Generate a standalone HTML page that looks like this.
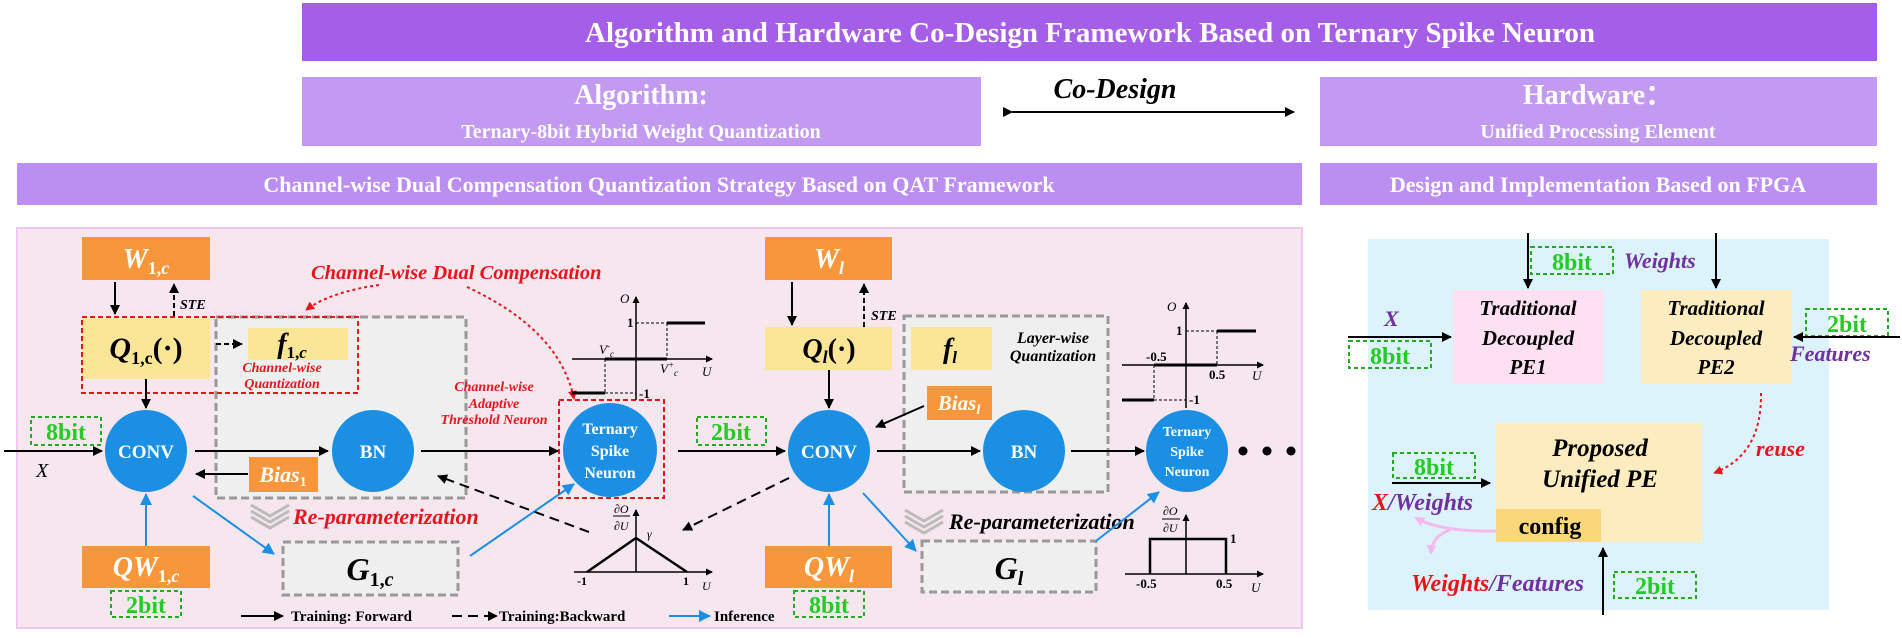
<!DOCTYPE html>
<html><head><meta charset="utf-8"><style>
html,body{margin:0;padding:0;background:#fff;}
svg{display:block;}
text{font-family:"Liberation Serif",serif;}
</style></head><body>
<svg width="1902" height="638" viewBox="0 0 1902 638" xmlns="http://www.w3.org/2000/svg">
<defs>
<marker id="ab" markerWidth="10" markerHeight="10" refX="9" refY="5" orient="auto" markerUnits="userSpaceOnUse"><path d="M0,0 L10,5 L0,10 z" fill="#000"/></marker>
<marker id="abl" markerWidth="12" markerHeight="12" refX="11" refY="6" orient="auto" markerUnits="userSpaceOnUse"><path d="M0,0 L12,6 L0,12 z" fill="#1a8fe3"/></marker>
<marker id="ar" markerWidth="9" markerHeight="9" refX="8" refY="4.5" orient="auto" markerUnits="userSpaceOnUse"><path d="M0,0 L9,4.5 L0,9 z" fill="#e8141c"/></marker>
<marker id="as" markerWidth="7" markerHeight="7" refX="6" refY="3.5" orient="auto" markerUnits="userSpaceOnUse"><path d="M0,0 L7,3.5 L0,7 z" fill="#000"/></marker>
<marker id="ap" markerWidth="10" markerHeight="10" refX="8" refY="5" orient="auto" markerUnits="userSpaceOnUse"><path d="M0,0 L10,5 L0,10 z" fill="#f7b8ee"/></marker>
</defs>

<rect x="302" y="3" width="1575" height="58" fill="#a45ee8"/>
<text x="1090" y="42" font-size="29" font-weight="bold" fill="#fff" text-anchor="middle">Algorithm and Hardware Co-Design Framework Based on Ternary Spike Neuron</text>
<rect x="302" y="77" width="679" height="69" fill="#c39af2"/>
<text x="641" y="104" font-size="28" font-weight="bold" fill="#fff" text-anchor="middle">Algorithm:</text>
<text x="641" y="138" font-size="20" font-weight="bold" fill="#fff" text-anchor="middle">Ternary-8bit Hybrid Weight Quantization</text>
<text x="1115" y="98" font-size="28" font-weight="bold" font-style="italic" fill="#000" text-anchor="middle">Co-Design</text>
<line x1="1012" y1="112" x2="1294" y2="112" stroke="#000" stroke-width="2" marker-end="url(#ab)" marker-start="url(#ab)"/>
<rect x="1320" y="77" width="557" height="69" fill="#c39af2"/>
<text x="1598" y="104" font-size="28" font-weight="bold" fill="#fff" text-anchor="middle">Hardware：</text>
<text x="1598" y="138" font-size="20" font-weight="bold" fill="#fff" text-anchor="middle">Unified Processing Element</text>
<rect x="17" y="163" width="1285" height="42" fill="#bb8ef2"/>
<text x="659" y="192" font-size="22" font-weight="bold" fill="#fff" text-anchor="middle">Channel-wise Dual Compensation Quantization Strategy Based on QAT Framework</text>
<rect x="1320" y="163" width="557" height="42" fill="#bb8ef2"/>
<text x="1598" y="192" font-size="22" font-weight="bold" fill="#fff" text-anchor="middle">Design and Implementation Based on FPGA</text>

<rect x="17" y="228" width="1285" height="400" fill="#f6e6ee" stroke="#f2c6f2" stroke-width="2"/>

<rect x="216" y="317" width="250" height="181" fill="#efeff0" stroke="#999" stroke-width="3" stroke-dasharray="8,4"/>
<rect x="904" y="316" width="204" height="176" fill="#efeff0" stroke="#999" stroke-width="3" stroke-dasharray="8,4"/>

<rect x="82" y="237" width="128" height="43" fill="#f7963a"/>
<text x="146" y="268" font-size="28" font-weight="bold" font-style="italic" fill="#fff" text-anchor="middle">W<tspan font-size="18" dy="6" font-style="normal">1,</tspan><tspan font-size="18" font-style="italic">c</tspan></text>
<line x1="115" y1="282" x2="115" y2="314" stroke="#000" stroke-width="2" marker-end="url(#ab)"/>
<line x1="174" y1="316" x2="174" y2="284" stroke="#000" stroke-width="2" stroke-dasharray="5,3" marker-end="url(#ab)"/>
<text x="180" y="309" font-size="14" font-weight="bold" font-style="italic">STE</text>
<rect x="82" y="318" width="128" height="61" fill="#fbe596"/>
<rect x="82" y="317" width="276" height="76" fill="none" stroke="#e8141c" stroke-width="2" stroke-dasharray="5,3"/>
<text x="146" y="358" font-size="30" font-weight="bold" font-style="italic" text-anchor="middle">Q<tspan font-size="18" dy="6" font-style="normal">1,c</tspan><tspan dy="-6" font-style="normal">(·)</tspan></text>
<line x1="216" y1="344" x2="242" y2="344" stroke="#000" stroke-width="2" stroke-dasharray="5,3" marker-end="url(#ab)"/>
<rect x="248" y="328" width="100" height="32" fill="#fbe596"/>
<text x="292" y="353" font-size="28" font-weight="bold" font-style="italic" text-anchor="middle">f<tspan font-size="17" dy="5" font-style="normal">1,</tspan><tspan font-size="17">c</tspan></text>
<text x="282" y="372" font-size="14" font-weight="bold" font-style="italic" fill="#e8141c" text-anchor="middle">Channel-wise</text>
<text x="282" y="388" font-size="14" font-weight="bold" font-style="italic" fill="#e8141c" text-anchor="middle">Quantization</text>
<line x1="146" y1="379" x2="146" y2="408" stroke="#000" stroke-width="2" marker-end="url(#ab)"/>

<text x="311" y="279" font-size="20.5" font-weight="bold" font-style="italic" fill="#e8141c">Channel-wise Dual Compensation</text>
<path d="M379,285 Q330,292 306,310" fill="none" stroke="#e8141c" stroke-width="2" stroke-dasharray="3,3" marker-end="url(#ar)"/>
<path d="M467,287 Q560,330 574,399" fill="none" stroke="#e8141c" stroke-width="2" stroke-dasharray="3,3" marker-end="url(#ar)"/>
<text x="494" y="391" font-size="14" font-weight="bold" font-style="italic" fill="#e8141c" text-anchor="middle">Channel-wise</text>
<text x="494" y="408" font-size="14" font-weight="bold" font-style="italic" fill="#e8141c" text-anchor="middle">Adaptive</text>
<text x="494" y="424" font-size="14" font-weight="bold" font-style="italic" fill="#e8141c" text-anchor="middle">Threshold Neuron</text>

<rect x="31" y="417" width="70" height="28" fill="none" stroke="#22aa22" stroke-width="2" stroke-dasharray="4,3"/>
<text x="66" y="440" font-size="24" font-weight="bold" fill="#22cc22" text-anchor="middle">8bit</text>
<line x1="4" y1="451" x2="102" y2="451" stroke="#000" stroke-width="2" marker-end="url(#ab)"/>
<text x="36" y="477" font-size="20" font-style="italic">X</text>

<circle cx="146" cy="451" r="41" fill="#1a8fe3"/>
<text x="146" y="458" font-size="19" font-weight="bold" fill="#fff" text-anchor="middle">CONV</text>
<line x1="195" y1="451" x2="328" y2="451" stroke="#000" stroke-width="2" marker-end="url(#ab)"/>
<circle cx="373" cy="451" r="41" fill="#1a8fe3"/>
<text x="373" y="458" font-size="19" font-weight="bold" fill="#fff" text-anchor="middle">BN</text>
<line x1="421" y1="451" x2="558" y2="451" stroke="#000" stroke-width="2" marker-end="url(#ab)"/>
<rect x="249" y="457" width="69" height="35" fill="#f7963a"/>
<text x="283" y="482" font-size="22" font-weight="bold" font-style="italic" fill="#fff" text-anchor="middle">Bias<tspan font-size="14" dy="4" font-style="normal">1</tspan></text>
<line x1="248" y1="474" x2="196" y2="474" stroke="#000" stroke-width="2" marker-end="url(#ab)"/>

<g fill="none" stroke="#bbb" stroke-width="3">
<polyline points="251,505 270,516 289,505"/><polyline points="251,511 270,522 289,511"/><polyline points="251,517 270,528 289,517"/>
<polyline points="905,510 924,521 943,510"/><polyline points="905,516 924,527 943,516"/><polyline points="905,522 924,533 943,522"/>
</g>
<text x="293" y="524" font-size="22" font-weight="bold" font-style="italic" fill="#e8141c">Re-parameterization</text>
<line x1="193" y1="496" x2="274" y2="554" stroke="#1a8fe3" stroke-width="2" marker-end="url(#abl)"/>
<rect x="283" y="542" width="175" height="53" fill="#efeff0" stroke="#999" stroke-width="3" stroke-dasharray="8,4"/>
<text x="370" y="580" font-size="32" font-weight="bold" font-style="italic" text-anchor="middle">G<tspan font-size="20" dy="6" font-style="normal">1,</tspan><tspan font-size="20">c</tspan></text>
<line x1="470" y1="556" x2="574" y2="484" stroke="#1a8fe3" stroke-width="2" marker-end="url(#abl)"/>
<line x1="589" y1="532" x2="438" y2="476" stroke="#000" stroke-width="2" stroke-dasharray="10,6" marker-end="url(#ab)"/>

<rect x="82" y="546" width="128" height="42" fill="#f7963a"/>
<text x="146" y="576" font-size="28" font-weight="bold" font-style="italic" fill="#fff" text-anchor="middle">QW<tspan font-size="18" dy="6" font-style="normal">1,</tspan><tspan font-size="18">c</tspan></text>
<line x1="146" y1="546" x2="146" y2="494" stroke="#1a8fe3" stroke-width="2" marker-end="url(#abl)"/>
<rect x="111" y="591" width="70" height="26" fill="none" stroke="#22aa22" stroke-width="2" stroke-dasharray="4,3"/>
<text x="146" y="613" font-size="24" font-weight="bold" fill="#22cc22" text-anchor="middle">2bit</text>

<line x1="241" y1="616" x2="283" y2="616" stroke="#000" stroke-width="2" marker-end="url(#ab)"/>
<text x="291" y="621" font-size="15" font-weight="bold">Training: Forward</text>
<line x1="452" y1="616" x2="497" y2="616" stroke="#000" stroke-width="2" stroke-dasharray="10,6" marker-end="url(#ab)"/>
<text x="499" y="621" font-size="15" font-weight="bold">Training:Backward</text>
<line x1="669" y1="616" x2="710" y2="616" stroke="#1a8fe3" stroke-width="2" marker-end="url(#abl)"/>
<text x="714" y="621" font-size="15" font-weight="bold">Inference</text>

<rect x="559" y="400" width="105" height="98" fill="none" stroke="#e8141c" stroke-width="2" stroke-dasharray="5,3"/>
<circle cx="610" cy="450" r="47" fill="#1a8fe3"/>
<text x="610" y="434" font-size="16" font-weight="bold" fill="#fff" text-anchor="middle">Ternary</text>
<text x="610" y="456" font-size="16" font-weight="bold" fill="#fff" text-anchor="middle">Spike</text>
<text x="610" y="478" font-size="16" font-weight="bold" fill="#fff" text-anchor="middle">Neuron</text>

<g stroke="#000" fill="none">
<line x1="636" y1="400" x2="636" y2="297" stroke-width="1.5" marker-end="url(#as)"/>
<line x1="572" y1="359" x2="712" y2="359" stroke-width="1.5" marker-end="url(#as)"/>
<line x1="636" y1="323" x2="667" y2="323" stroke-dasharray="3,2"/>
<line x1="667" y1="323" x2="667" y2="359" stroke-dasharray="3,2"/>
<line x1="667" y1="323" x2="705" y2="323" stroke-width="3"/>
<line x1="605" y1="359" x2="667" y2="359" stroke-width="3"/>
<line x1="605" y1="359" x2="605" y2="393" stroke-dasharray="3,2"/>
<line x1="605" y1="393" x2="636" y2="393" stroke-dasharray="3,2"/>
<line x1="572" y1="393" x2="605" y2="393" stroke-width="3"/>
</g>
<g font-size="13" font-style="italic">
<text x="620" y="303">O</text>
<text x="627" y="327" font-style="normal" font-weight="bold">1</text>
<text x="599" y="354">V<tspan font-size="9" dy="-5">-</tspan><tspan font-size="9" dy="8">c</tspan></text>
<text x="660" y="373">V<tspan font-size="9" dy="-5">+</tspan><tspan font-size="9" dy="8">c</tspan></text>
<text x="702" y="376">U</text>
<text x="639" y="398" font-style="normal" font-weight="bold">-1</text>
</g>

<g stroke="#000" fill="none">
<line x1="636" y1="572" x2="636" y2="510" stroke-width="1.5" marker-end="url(#as)"/>
<line x1="574" y1="572" x2="712" y2="572" stroke-width="1.5" marker-end="url(#as)"/>
<polyline points="587,572 636,538 687,572" stroke-width="2.5"/>
<line x1="613" y1="516" x2="630" y2="516" stroke-width="1"/>
</g>
<g font-size="12" font-style="italic">
<text x="614" y="513">∂O</text><text x="614" y="530">∂U</text>
<text x="647" y="538">γ</text>
<text x="577" y="585" font-style="normal" font-weight="bold">-1</text>
<text x="683" y="585" font-style="normal" font-weight="bold">1</text>
<text x="702" y="590">U</text>
</g>
<line x1="789" y1="478" x2="683" y2="530" stroke="#000" stroke-width="2" stroke-dasharray="10,6" marker-end="url(#ab)"/>

<rect x="697" y="417" width="69" height="28" fill="none" stroke="#22aa22" stroke-width="2" stroke-dasharray="4,3"/>
<text x="731" y="440" font-size="24" font-weight="bold" fill="#22cc22" text-anchor="middle">2bit</text>
<line x1="678" y1="451" x2="785" y2="451" stroke="#000" stroke-width="2" marker-end="url(#ab)"/>
<rect x="765" y="237" width="127" height="43" fill="#f7963a"/>
<text x="829" y="268" font-size="28" font-weight="bold" font-style="italic" fill="#fff" text-anchor="middle">W<tspan font-size="18" dy="6">l</tspan></text>
<line x1="792" y1="282" x2="792" y2="325" stroke="#000" stroke-width="2" marker-end="url(#ab)"/>
<line x1="864" y1="327" x2="864" y2="284" stroke="#000" stroke-width="2" stroke-dasharray="5,3" marker-end="url(#ab)"/>
<text x="871" y="320" font-size="14" font-weight="bold" font-style="italic">STE</text>
<rect x="765" y="327" width="127" height="43" fill="#fbe596"/>
<text x="829" y="358" font-size="28" font-weight="bold" font-style="italic" text-anchor="middle">Q<tspan font-size="18" dy="5">l</tspan><tspan dy="-5" font-style="normal">(·)</tspan></text>
<line x1="829" y1="370" x2="829" y2="408" stroke="#000" stroke-width="2" marker-end="url(#ab)"/>
<rect x="911" y="327" width="81" height="43" fill="#fbe596"/>
<text x="950" y="358" font-size="28" font-weight="bold" font-style="italic" text-anchor="middle">f<tspan font-size="17" dy="5">l</tspan></text>
<text x="1053" y="343" font-size="16" font-weight="bold" font-style="italic" text-anchor="middle">Layer-wise</text>
<text x="1053" y="361" font-size="16" font-weight="bold" font-style="italic" text-anchor="middle">Quantization</text>
<rect x="927" y="386" width="65" height="34" fill="#f7963a"/>
<text x="959" y="410" font-size="21" font-weight="bold" font-style="italic" fill="#fff" text-anchor="middle">Bias<tspan font-size="14" dy="4">l</tspan></text>
<line x1="924" y1="406" x2="876" y2="427" stroke="#000" stroke-width="2" marker-end="url(#ab)"/>
<circle cx="829" cy="451" r="41" fill="#1a8fe3"/>
<text x="829" y="458" font-size="19" font-weight="bold" fill="#fff" text-anchor="middle">CONV</text>
<line x1="877" y1="451" x2="980" y2="451" stroke="#000" stroke-width="2" marker-end="url(#ab)"/>
<circle cx="1024" cy="451" r="41" fill="#1a8fe3"/>
<text x="1024" y="458" font-size="19" font-weight="bold" fill="#fff" text-anchor="middle">BN</text>
<line x1="1071" y1="451" x2="1144" y2="451" stroke="#000" stroke-width="2" marker-end="url(#ab)"/>
<rect x="765" y="546" width="127" height="42" fill="#f7963a"/>
<text x="829" y="576" font-size="28" font-weight="bold" font-style="italic" fill="#fff" text-anchor="middle">QW<tspan font-size="18" dy="6">l</tspan></text>
<line x1="829" y1="546" x2="829" y2="494" stroke="#1a8fe3" stroke-width="2" marker-end="url(#abl)"/>
<rect x="794" y="591" width="70" height="26" fill="none" stroke="#22aa22" stroke-width="2" stroke-dasharray="4,3"/>
<text x="829" y="613" font-size="24" font-weight="bold" fill="#22cc22" text-anchor="middle">8bit</text>
<line x1="863" y1="493" x2="916" y2="551" stroke="#1a8fe3" stroke-width="2" marker-end="url(#abl)"/>
<text x="949" y="529" font-size="22" font-weight="bold" font-style="italic">Re-parameterization</text>
<rect x="922" y="541" width="174" height="51" fill="#efeff0" stroke="#999" stroke-width="3" stroke-dasharray="8,4"/>
<text x="1009" y="579" font-size="32" font-weight="bold" font-style="italic" text-anchor="middle">G<tspan font-size="20" dy="6">l</tspan></text>
<line x1="1096" y1="541" x2="1159" y2="492" stroke="#1a8fe3" stroke-width="2" marker-end="url(#abl)"/>

<circle cx="1187" cy="451" r="41" fill="#1a8fe3"/>
<text x="1187" y="436" font-size="14" font-weight="bold" fill="#fff" text-anchor="middle">Ternary</text>
<text x="1187" y="456" font-size="14" font-weight="bold" fill="#fff" text-anchor="middle">Spike</text>
<text x="1187" y="476" font-size="14" font-weight="bold" fill="#fff" text-anchor="middle">Neuron</text>
<circle cx="1243" cy="451" r="4.5"/><circle cx="1267" cy="451" r="4.5"/><circle cx="1291" cy="451" r="4.5"/>

<g stroke="#000" fill="none">
<line x1="1186" y1="408" x2="1186" y2="303" stroke-width="1.5" marker-end="url(#as)"/>
<line x1="1122" y1="365" x2="1263" y2="365" stroke-width="1.5" marker-end="url(#as)"/>
<line x1="1186" y1="331" x2="1217" y2="331" stroke-dasharray="3,2"/>
<line x1="1217" y1="331" x2="1217" y2="365" stroke-dasharray="3,2"/>
<line x1="1217" y1="331" x2="1256" y2="331" stroke-width="3"/>
<line x1="1154" y1="365" x2="1217" y2="365" stroke-width="3"/>
<line x1="1154" y1="365" x2="1154" y2="400" stroke-dasharray="3,2"/>
<line x1="1154" y1="400" x2="1186" y2="400" stroke-dasharray="3,2"/>
<line x1="1122" y1="400" x2="1154" y2="400" stroke-width="3"/>
</g>
<g font-size="13" font-weight="bold">
<text x="1167" y="311" font-style="italic" font-weight="normal">O</text>
<text x="1176" y="335">1</text>
<text x="1146" y="361">-0.5</text>
<text x="1209" y="379">0.5</text>
<text x="1252" y="380" font-style="italic" font-weight="normal">U</text>
<text x="1189" y="404">-1</text>
</g>
<g stroke="#000" fill="none">
<line x1="1186" y1="574" x2="1186" y2="515" stroke-width="1.5" marker-end="url(#as)"/>
<line x1="1125" y1="574" x2="1263" y2="574" stroke-width="1.5" marker-end="url(#as)"/>
<polyline points="1150,574 1150,539 1226,539 1226,574" stroke-width="2.5"/>
<line x1="1162" y1="519" x2="1180" y2="519" stroke-width="1"/>
</g>
<g font-size="12" font-style="italic">
<text x="1163" y="515">∂O</text><text x="1163" y="532">∂U</text>
</g>
<g font-size="13" font-weight="bold">
<text x="1230" y="543">1</text>
<text x="1136" y="588">-0.5</text>
<text x="1216" y="588">0.5</text>
<text x="1251" y="592" font-style="italic" font-weight="normal">U</text>
</g>

<rect x="1368" y="239" width="461" height="371" fill="#dcf3fb"/>
<line x1="1528" y1="233" x2="1528" y2="288" stroke="#000" stroke-width="2" marker-end="url(#ab)"/>
<rect x="1531" y="247" width="82" height="27" fill="none" stroke="#22aa22" stroke-width="2" stroke-dasharray="4,3"/>
<text x="1572" y="270" font-size="24" font-weight="bold" fill="#22cc22" text-anchor="middle">8bit</text>
<text x="1624" y="268" font-size="22" font-weight="bold" font-style="italic" fill="#7030a0">Weights</text>
<line x1="1716" y1="233" x2="1716" y2="288" stroke="#000" stroke-width="2" marker-end="url(#ab)"/>
<rect x="1453" y="290" width="151" height="94" fill="#fde0f2"/>
<rect x="1641" y="290" width="151" height="94" fill="#fdecc0"/>
<g font-size="21" font-weight="bold" font-style="italic" text-anchor="middle">
<text x="1528" y="315">Traditional</text><text x="1528" y="345">Decoupled</text><text x="1528" y="374">PE1</text>
<text x="1716" y="315">Traditional</text><text x="1716" y="345">Decoupled</text><text x="1716" y="374">PE2</text>
</g>
<text x="1384" y="326" font-size="22" font-weight="bold" font-style="italic" fill="#7030a0">X</text>
<line x1="1348" y1="337" x2="1451" y2="337" stroke="#000" stroke-width="2" marker-end="url(#ab)"/>
<rect x="1349" y="341" width="82" height="27" fill="none" stroke="#22aa22" stroke-width="2" stroke-dasharray="4,3"/>
<text x="1390" y="364" font-size="24" font-weight="bold" fill="#22cc22" text-anchor="middle">8bit</text>
<rect x="1806" y="309" width="82" height="27" fill="none" stroke="#22aa22" stroke-width="2" stroke-dasharray="4,3"/>
<text x="1847" y="332" font-size="24" font-weight="bold" fill="#22cc22" text-anchor="middle">2bit</text>
<line x1="1900" y1="337" x2="1794" y2="337" stroke="#000" stroke-width="2" marker-end="url(#ab)"/>
<text x="1790" y="361" font-size="22" font-weight="bold" font-style="italic" fill="#7030a0">Features</text>
<path d="M1761,393 Q1762,455 1714,473" fill="none" stroke="#e8141c" stroke-width="2" stroke-dasharray="3,3" marker-end="url(#ar)"/>
<text x="1756" y="456" font-size="22" font-weight="bold" font-style="italic" fill="#e8141c">reuse</text>
<rect x="1496" y="423" width="206" height="119" fill="#fdecc0"/>
<rect x="1496" y="509" width="105" height="33" fill="#f9d77a"/>
<text x="1600" y="456" font-size="25" font-weight="bold" font-style="italic" text-anchor="middle">Proposed</text>
<text x="1600" y="487" font-size="25" font-weight="bold" font-style="italic" text-anchor="middle">Unified PE</text>
<text x="1550" y="534" font-size="24" font-weight="bold" text-anchor="middle">config</text>
<rect x="1393" y="453" width="82" height="25" fill="none" stroke="#22aa22" stroke-width="2" stroke-dasharray="4,3"/>
<text x="1434" y="475" font-size="24" font-weight="bold" fill="#22cc22" text-anchor="middle">8bit</text>
<line x1="1392" y1="483" x2="1490" y2="483" stroke="#000" stroke-width="2" marker-end="url(#ab)"/>
<text x="1372" y="510" font-size="24" font-weight="bold" font-style="italic"><tspan fill="#e8141c">X</tspan><tspan fill="#7030a0">/Weights</tspan></text>
<path d="M1496,531 Q1440,532 1416,518" fill="none" stroke="#f7b8ee" stroke-width="3" marker-end="url(#ap)"/>
<path d="M1450,530 Q1432,536 1431,553" fill="none" stroke="#f7b8ee" stroke-width="3" marker-end="url(#ap)"/>
<line x1="1603" y1="615" x2="1603" y2="548" stroke="#000" stroke-width="2" marker-end="url(#ab)"/>
<text x="1411" y="591" font-size="24" font-weight="bold" font-style="italic"><tspan fill="#e8141c">Weights</tspan><tspan fill="#7030a0">/Features</tspan></text>
<rect x="1614" y="572" width="82" height="26" fill="none" stroke="#22aa22" stroke-width="2" stroke-dasharray="4,3"/>
<text x="1655" y="594" font-size="24" font-weight="bold" fill="#22cc22" text-anchor="middle">2bit</text>
</svg>
</body></html>
